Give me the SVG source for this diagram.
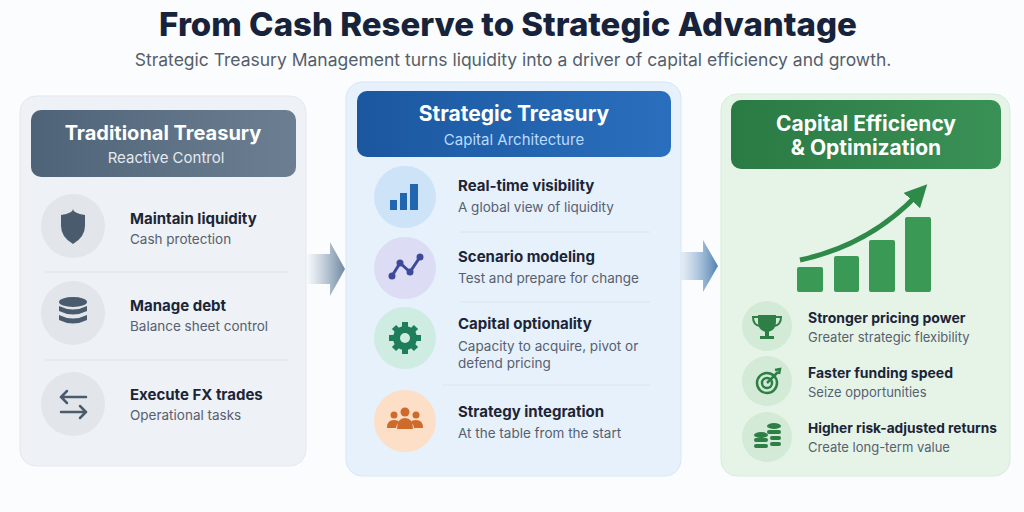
<svg xmlns="http://www.w3.org/2000/svg" width="1024" height="512" viewBox="0 0 1024 512">
<style>
text{font-family:Inter,"Noto Sans",sans-serif}
.t{font-size:15px;font-weight:700;fill:#1b2538}
.s{font-size:13.5px;fill:#566070}
.h{font-size:20px;font-weight:700;fill:#fff;text-anchor:middle}
.sep{stroke:#dde2ea;stroke-width:1}
</style>
<defs>
<linearGradient id="gl" x1="0" x2="1"><stop offset="0" stop-color="#4f6378"/><stop offset="1" stop-color="#6c7f92"/></linearGradient>
<linearGradient id="gm" x1="0" x2="1"><stop offset="0" stop-color="#1b579f"/><stop offset="1" stop-color="#2a6fbd"/></linearGradient>
<linearGradient id="gr" x1="0" x2="1"><stop offset="0" stop-color="#2a7a43"/><stop offset="1" stop-color="#3a9156"/></linearGradient>
<linearGradient id="ga" x1="0" x2="1"><stop offset="0" stop-color="#8aa0b6" stop-opacity="0"/><stop offset="1" stop-color="#6f88a2"/></linearGradient>
<linearGradient id="ga2" x1="0" x2="1"><stop offset="0" stop-color="#9dbbd8" stop-opacity="0.2"/><stop offset="1" stop-color="#4f80b0"/></linearGradient>
<marker id="ah" viewBox="0 0 10 10" refX="4" refY="5" markerWidth="4.5" markerHeight="4.5" orient="auto"><path d="M0,0L10,5L0,10z" fill="#2f8a4a"/></marker>
</defs>
<rect width="1024" height="512" fill="#fafcfe"/>
<text x="508" y="36" text-anchor="middle" style="font-size:33px;font-weight:800;fill:#17233b">From Cash Reserve to Strategic Advantage</text>
<text x="513" y="66" text-anchor="middle" style="font-size:17.5px;fill:#555e6b">Strategic Treasury Management turns liquidity into a driver of capital efficiency and growth.</text>

<g id="connectors">
<path d="M306,254H330V242L345,269L330,296V284H306Z" fill="url(#ga)"/>
<path d="M680,252H703V240L718,266L703,292V280H680Z" fill="url(#ga2)"/>
</g>

<g id="traditional">
<rect x="20" y="96" width="286" height="370" rx="16" fill="#eef1f5" stroke="#e3e8ee"/>
<rect x="31" y="110" width="265" height="67" rx="10" fill="url(#gl)"/>
<text x="163" y="140" class="h">Traditional Treasury</text>
<text x="166" y="163" text-anchor="middle" style="font-size:15px;fill:#e4e9ef">Reactive Control</text>
<line x1="45" y1="272" x2="288" y2="272" class="sep"/>
<line x1="45" y1="360" x2="288" y2="360" class="sep"/>
<circle cx="73" cy="226" r="32" fill="#e2e6eb"/>
<path d="M61,215Q73,213 73,209Q73,213 85,215V226Q85,237 73,244Q61,237 61,226Z" fill="#4a5b6d"/>
<text x="130" y="224" class="t">Maintain liquidity</text><text x="130" y="244" class="s">Cash protection</text>
<circle cx="73" cy="313" r="32" fill="#e2e6eb"/>
<g fill="#4a5b6d"><ellipse cx="73" cy="302" rx="14" ry="5"/><path d="M59,306Q73,313 87,306V311Q73,318 59,311Z"/><path d="M59,315Q73,322 87,315V320Q73,327 59,320Z"/></g>
<text x="130" y="311" class="t">Manage debt</text><text x="130" y="331" class="s">Balance sheet control</text>
<circle cx="73" cy="404" r="32" fill="#e2e6eb"/>
<g stroke="#4a5b6d" stroke-width="2.5" fill="none" stroke-linecap="round"><path d="M61,397H86M67,391L61,397L67,403"/><path d="M86,412H61M80,406L86,412L80,418"/></g>
<text x="130" y="400" class="t">Execute FX trades</text><text x="130" y="420" class="s">Operational tasks</text>
</g>

<g id="strategic">
<rect x="346" y="82" width="335" height="394" rx="16" fill="#e7f1fb" stroke="#d8e6f4"/>
<rect x="357" y="91" width="314" height="66" rx="10" fill="url(#gm)"/>
<text x="514" y="121" class="h" style="font-size:21px">Strategic Treasury</text>
<text x="514" y="145" text-anchor="middle" style="font-size:15px;fill:#b9dcff">Capital Architecture</text>
<line x1="460" y1="232" x2="650" y2="232" class="sep"/>
<line x1="460" y1="302" x2="650" y2="302" class="sep"/>
<line x1="443" y1="385" x2="650" y2="385" class="sep"/>
<circle cx="405" cy="197" r="31" fill="#cde3f8"/>
<g fill="#2266b0"><rect x="390" y="200" width="7" height="10"/><rect x="400" y="193" width="7" height="17"/><rect x="410" y="184" width="8" height="26"/></g>
<text x="458" y="191" class="t">Real-time visibility</text><text x="458" y="212" class="s">A global view of liquidity</text>
<circle cx="405" cy="268" r="31" fill="#dcdcf4"/>
<g fill="#3c4a9a"><path d="M392,276L400,263L410,272L420,257" stroke="#3c4a9a" stroke-width="3" fill="none"/><circle cx="392" cy="276" r="3.5"/><circle cx="400" cy="263" r="3.5"/><circle cx="410" cy="272" r="3.5"/><circle cx="420" cy="257" r="3.5"/></g>
<text x="458" y="262" class="t">Scenario modeling</text><text x="458" y="283" class="s">Test and prepare for change</text>
<circle cx="405" cy="338" r="31" fill="#cfece2"/>
<g fill="#1e7d5a"><circle cx="405" cy="338" r="12"/><g stroke="#1e7d5a" stroke-width="6"><path d="M405,322V354M389,338H421M394,327L416,349M416,327L394,349"/></g><circle cx="405" cy="338" r="5" fill="#cfece2"/></g>
<text x="458" y="329" class="t">Capital optionality</text><text x="458" y="351" class="s">Capacity to acquire, pivot or</text><text x="458" y="368" class="s">defend pricing</text>
<circle cx="405" cy="421" r="31" fill="#fcdfc6"/>
<g fill="#cf6b2a"><circle cx="405" cy="412" r="4.5"/><circle cx="394" cy="415" r="3.5"/><circle cx="416" cy="415" r="3.5"/><path d="M397,429Q397,418 405,418Q413,418 413,429Z"/><path d="M387,428Q387,420 394,420Q398,420 399,422Q396,425 396,428Z"/><path d="M423,428Q423,420 416,420Q412,420 411,422Q414,425 414,428Z"/></g>
<text x="458" y="417" class="t">Strategy integration</text><text x="458" y="438" class="s">At the table from the start</text>
</g>

<g id="efficiency">
<rect x="721" y="94" width="289" height="382" rx="16" fill="#e6f4e8" stroke="#d6ecd9"/>
<rect x="731" y="100" width="270" height="69" rx="10" fill="url(#gr)"/>
<text x="866" y="131" class="h" style="font-size:21px">Capital Efficiency</text>
<text x="866" y="155" class="h" style="font-size:21px">&amp; Optimization</text>
<g fill="#3b9956"><rect x="797" y="267" width="26" height="25" rx="2"/><rect x="834" y="256" width="25" height="36" rx="2"/><rect x="869" y="240" width="26" height="52" rx="2"/><rect x="905" y="217" width="26" height="75" rx="2"/></g>
<path d="M800,260Q870,245 918,194" stroke="#2f8a4a" stroke-width="5" fill="none" marker-end="url(#ah)"/>
<circle cx="767" cy="326" r="25" fill="#d2ead6"/>
<g fill="#2d7f45"><path d="M758,315H776V322Q776,331 767,332Q758,331 758,322Z"/><path d="M758,317H753Q753,325 760,326M776,317H781Q781,325 774,326" stroke="#2d7f45" stroke-width="2" fill="none"/><rect x="765" y="331" width="4" height="5"/><rect x="760" y="336" width="14" height="3"/></g>
<text x="808" y="323" class="t" style="font-size:14px">Stronger pricing power</text><text x="808" y="342" class="s" style="font-size:13px">Greater strategic flexibility</text>
<circle cx="767" cy="381" r="25" fill="#d2ead6"/>
<g stroke="#2d7f45" stroke-width="2.5" fill="none"><circle cx="767" cy="383" r="10"/><circle cx="767" cy="383" r="5"/><path d="M767,383L778,372M775,370L780,369L779,374"/></g>
<text x="808" y="378" class="t" style="font-size:14px">Faster funding speed</text><text x="808" y="397" class="s" style="font-size:13px">Seize opportunities</text>
<circle cx="767" cy="437" r="25" fill="#d2ead6"/>
<g fill="#2d7f45"><ellipse cx="761" cy="435" rx="7" ry="3"/><rect x="754" y="438" width="14" height="4" rx="2"/><rect x="754" y="444" width="14" height="4" rx="2"/><ellipse cx="774" cy="426" rx="7" ry="3"/><rect x="767" y="430" width="14" height="4" rx="2"/><rect x="770" y="436" width="11" height="4" rx="2"/><rect x="770" y="442" width="11" height="4" rx="2"/></g>
<text x="808" y="433" class="t" style="font-size:13.7px">Higher risk-adjusted returns</text><text x="808" y="452" class="s" style="font-size:13px">Create long-term value</text>
</g>
</svg>
